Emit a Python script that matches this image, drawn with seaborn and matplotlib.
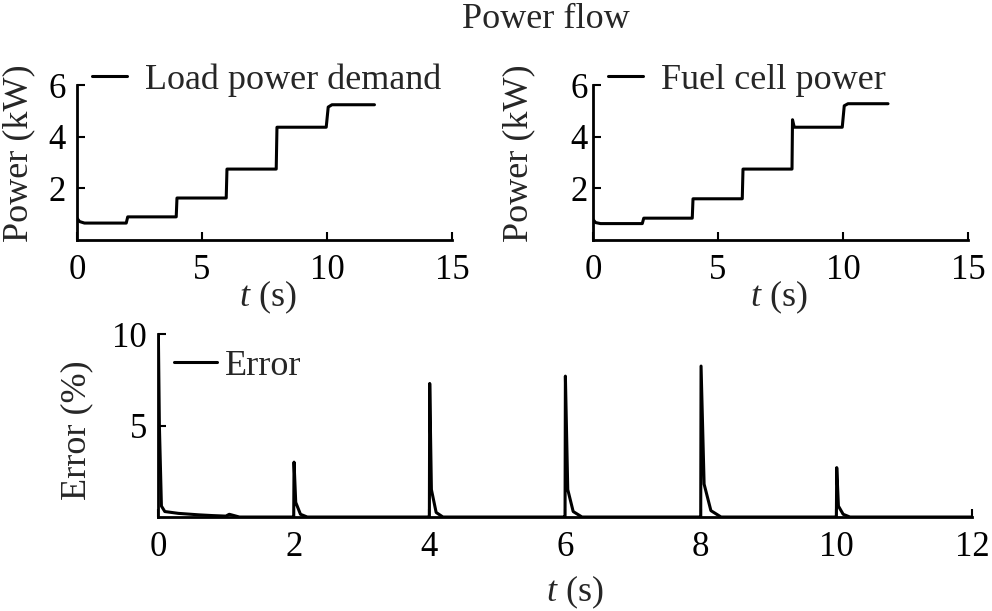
import numpy as np
import pandas as pd
import matplotlib
matplotlib.use("Agg")
import matplotlib.pyplot as plt
import seaborn as sns

# ---- data ----
t_load = [0.0, 0.1, 0.3, 1.97, 2.03, 3.97, 4.0, 5.97, 6.0, 7.97, 8.0, 9.97, 10.05, 10.2, 11.9]
p_load = [0.85, 0.72, 0.66, 0.66, 0.9, 0.9, 1.63, 1.63, 2.75, 2.75, 4.37, 4.37, 5.15, 5.24, 5.24]

t_fc = [0.0, 0.1, 0.3, 1.97, 2.03, 3.97, 4.0, 5.97, 6.0, 7.96, 7.98, 8.05, 9.97, 10.05, 10.2, 11.8]
p_fc = [0.8, 0.68, 0.64, 0.64, 0.85, 0.85, 1.6, 1.6, 2.75, 2.75, 4.66, 4.37, 4.37, 5.2, 5.28, 5.28]

t_err = [0.0, 0.005, 0.02, 0.05, 0.1, 0.3, 0.6, 0.8, 1.0, 1.05, 1.2, 1.99,
         2.0, 2.005, 2.03, 2.1, 2.2, 3.99,
         4.0, 4.005, 4.03, 4.1, 4.2, 5.99,
         6.0, 6.005, 6.04, 6.12, 6.25, 7.99,
         8.0, 8.005, 8.05, 8.15, 8.3, 9.99,
         10.0, 10.005, 10.03, 10.1, 10.2, 12.0]
e_err = [10.0, 10.0, 5.0, 0.6, 0.3, 0.2, 0.12, 0.08, 0.05, 0.15, 0.0, 0.0,
         0.0, 3.0, 0.8, 0.15, 0.0, 0.0,
         0.0, 7.3, 1.5, 0.25, 0.0, 0.0,
         0.0, 7.7, 1.5, 0.3, 0.0, 0.0,
         0.0, 8.25, 1.8, 0.35, 0.0, 0.0,
         0.0, 2.7, 0.6, 0.15, 0.0, 0.0]

x_ticks_top = [0, 5, 10, 15]
y_ticks_top = [2, 4, 6]
x_ticks_bot = [0, 2, 4, 6, 8, 10, 12]
y_ticks_bot = [5, 10]

df_load = pd.DataFrame({"t": t_load, "p": p_load})
df_fc = pd.DataFrame({"t": t_fc, "p": p_fc})
df_err = pd.DataFrame({"t": t_err, "e": e_err})

sns.set_style("ticks")
plt.rcParams["font.family"] = ["Liberation Serif", "DejaVu Serif"]
plt.rcParams["mathtext.fontset"] = "custom"
plt.rcParams["mathtext.it"] = "Liberation Serif:italic"
plt.rcParams["mathtext.rm"] = "Liberation Serif"

FS = 26
TFS = 25
fig = plt.figure(figsize=(9.92, 6.11), dpi=100)
fig.patch.set_facecolor("white")

ax1 = fig.add_axes([0.0776, 0.607, 0.378, 0.2537])
ax2 = fig.add_axes([0.5978, 0.607, 0.378, 0.2537])
ax3 = fig.add_axes([0.1593, 0.1538, 0.8206, 0.2995])

def style(ax, xt, yt, xlim, ylim, ypad):
    ax.set_xlim(*xlim)
    ax.set_ylim(*ylim)
    ax.set_xticks(xt)
    ax.set_yticks(yt)
    for s in ["top", "right"]:
        ax.spines[s].set_visible(False)
    for s in ["left", "bottom"]:
        ax.spines[s].set_linewidth(2.0)
        ax.spines[s].set_color("black")
    ax.tick_params(direction="in", length=6, width=1.5, labelsize=TFS,
                   colors="black")
    ax.tick_params(axis="x", pad=10)
    ax.tick_params(axis="y", pad=ypad)
    ax.set_facecolor("white")

LW = 2.2
sns.lineplot(data=df_load, x="t", y="p", ax=ax1, color="black", lw=LW,
             label="Load power demand", sort=False, estimator=None)
sns.lineplot(data=df_fc, x="t", y="p", ax=ax2, color="black", lw=LW,
             label="Fuel cell power", sort=False, estimator=None)
sns.lineplot(data=df_err, x="t", y="e", ax=ax3, color="black", lw=LW,
             label="Error", sort=False, estimator=None)

style(ax1, x_ticks_top, y_ticks_top, (0, 15), (0, 6), 8)
style(ax2, x_ticks_top, y_ticks_top, (0, 15), (0, 6), 4)
style(ax3, x_ticks_bot, y_ticks_bot, (0, 12), (0, 10), 8)

for ax, xc, yc in ((ax1, 0.51, -0.11), (ax2, 0.495, -0.155)):
    ax.set_xlabel(r"$t$ (s)", fontsize=FS)
    ax.set_ylabel("Power (kW)", fontsize=FS)
    ax.xaxis.set_label_coords(xc, -0.25)
    ax.yaxis.set_label_coords(yc, 0.56)
ax3.set_xlabel(r"$t$ (s)", fontsize=FS)
ax3.set_ylabel("Error (%)", fontsize=FS)
ax3.xaxis.set_label_coords(0.512, -0.31)
ax3.yaxis.set_label_coords(-0.08, 0.475)

for ax, anchor, hl, htp in ((ax1, (0.041, 1.14), 0.95, 0.5),
                            (ax2, (0.041, 1.14), 0.95, 0.5),
                            (ax3, (0.02, 0.917), 1.17, 0.22)):
    ax.legend(loc="upper left", bbox_to_anchor=anchor, frameon=False,
              fontsize=FS, handlelength=hl, handletextpad=htp,
              borderaxespad=0.0, borderpad=0.0)

fig.text(0.55, 0.968, "Power flow", ha="center", va="center", fontsize=FS)

fig.savefig("out.png", dpi=100, facecolor="white")
